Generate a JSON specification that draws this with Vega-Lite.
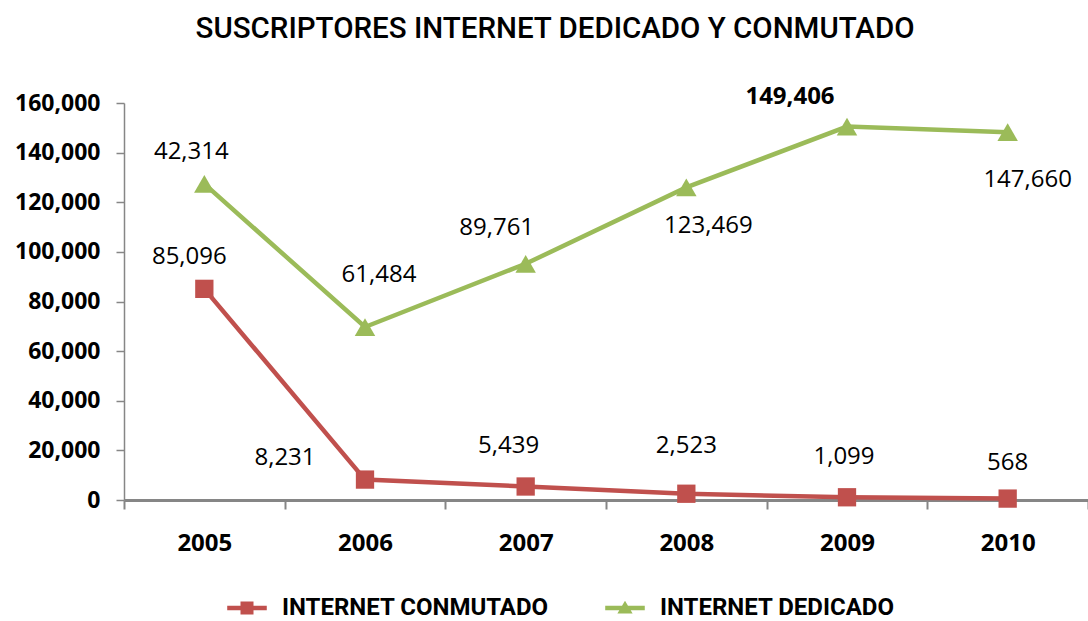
{
  "$schema": "https://vega.github.io/schema/vega-lite/v6.json",
  "width": 964,
  "height": 397,
  "autosize": {"type": "none"},
  "padding": {"left": 124, "top": 103, "right": 0, "bottom": 121},
  "background": "white",
  "title": {"text": "SUSCRIPTORES INTERNET DEDICADO Y CONMUTADO", "font": "Roboto", "fontSize": 29.5, "fontWeight": 500, "color": "#000000", "anchor": "middle", "dx": -51, "offset": 40},
  "config": {"view": {"stroke": null}, "font": "Open Sans"},
  "data": {"values": [
    {"year": "2005", "series": "INTERNET CONMUTADO", "value": 85096},
    {"year": "2006", "series": "INTERNET CONMUTADO", "value": 8231},
    {"year": "2007", "series": "INTERNET CONMUTADO", "value": 5439},
    {"year": "2008", "series": "INTERNET CONMUTADO", "value": 2523},
    {"year": "2009", "series": "INTERNET CONMUTADO", "value": 1099},
    {"year": "2010", "series": "INTERNET CONMUTADO", "value": 568},
    {"year": "2005", "series": "INTERNET DEDICADO", "value": 42314},
    {"year": "2006", "series": "INTERNET DEDICADO", "value": 61484},
    {"year": "2007", "series": "INTERNET DEDICADO", "value": 89761},
    {"year": "2008", "series": "INTERNET DEDICADO", "value": 123469},
    {"year": "2009", "series": "INTERNET DEDICADO", "value": 149406},
    {"year": "2010", "series": "INTERNET DEDICADO", "value": 147660}
  ]},
  "transform": [
    {"stack": "value", "groupby": ["year"], "sort": [{"field": "series", "order": "ascending"}], "as": ["v0", "v1"]}
  ],
  "encoding": {
    "x": {"field": "year", "type": "ordinal", "scale": {"type": "band", "paddingInner": 0, "paddingOuter": 0},
      "axis": {"title": null, "labelAngle": 0, "labelFont": "Open Sans", "labelFontSize": 24, "labelFontWeight": "bold", "labelColor": "#000000", "labelPadding": 22, "tickBand": "extent", "tickSize": 9, "tickWidth": 2, "tickColor": "#868686", "domainColor": "#868686", "domainWidth": 3, "grid": false}},
    "y": {"field": "v1", "type": "quantitative", "scale": {"domain": [0, 160000], "nice": false},
      "axis": {"title": null, "values": [0, 20000, 40000, 60000, 80000, 100000, 120000, 140000, 160000], "format": ",d", "labelFont": "Open Sans", "labelFontSize": 23, "labelFontWeight": "bold", "labelColor": "#000000", "labelPadding": 16, "tickSize": 8, "tickWidth": 1.5, "tickColor": "#868686", "domainColor": "#868686", "domainWidth": 1.5, "grid": false}}
  },
  "layer": [
    {"mark": {"type": "line", "strokeWidth": 4.5},
      "encoding": {
        "color": {"field": "series", "type": "nominal", "scale": {"domain": ["INTERNET CONMUTADO", "INTERNET DEDICADO"], "range": ["#C0504D", "#9BBB59"]},
          "legend": {"orient": "none", "legendX": 111, "legendY": 493, "direction": "horizontal", "title": null, "labelFont": "Roboto", "labelFontSize": 24, "labelFontWeight": "bold", "labelColor": "#000000", "labelLimit": 500, "symbolSize": 345, "labelOffset": 23, "columnPadding": 56,
            "encode": {"symbols": {"update": {
              "shape": {"signal": "datum.value == 'INTERNET CONMUTADO' ? 'M-2.13,-0.24L2.13,-0.24L2.13,0.24L-2.13,0.24Z M-0.7,-0.7L0.7,-0.7L0.7,0.7L-0.7,0.7Z' : 'M-2.13,-0.24L2.13,-0.24L2.13,0.24L-2.13,0.24Z M-0.82,0.6L0,-0.78L0.82,0.6Z'"},
              "fill": {"signal": "scale('color', datum.value)"},
              "stroke": {"value": "transparent"},
              "strokeWidth": {"value": 0},
              "opacity": {"value": 1},
              "fillOpacity": {"value": 1}}}}}}
      }},
    {"transform": [{"filter": "datum.series == 'INTERNET CONMUTADO'"}],
      "mark": {"type": "point", "filled": true, "opacity": 1, "strokeWidth": 0, "shape": "square", "size": 335, "color": "#C0504D"}},
    {"transform": [{"filter": "datum.series == 'INTERNET DEDICADO'"}],
      "mark": {"type": "point", "filled": true, "opacity": 1, "strokeWidth": 0, "shape": "triangle-up", "size": 420, "color": "#9BBB59"}},
    {"transform": [{"filter": "datum.year == '2005' && datum.series == 'INTERNET CONMUTADO'"}],
      "mark": {"type": "text", "font": "Open Sans", "fontSize": 24, "color": "#000000", "dx": -15, "dy": -32}, "encoding": {"text": {"field": "value", "format": ",d"}}},
    {"transform": [{"filter": "datum.year == '2005' && datum.series == 'INTERNET DEDICADO'"}],
      "mark": {"type": "text", "font": "Open Sans", "fontSize": 24, "color": "#000000", "dx": -13, "dy": -32}, "encoding": {"text": {"field": "value", "format": ",d"}}},
    {"transform": [{"filter": "datum.year == '2006' && datum.series == 'INTERNET DEDICADO'"}],
      "mark": {"type": "text", "font": "Open Sans", "fontSize": 24, "color": "#000000", "dx": 14, "dy": -52}, "encoding": {"text": {"field": "value", "format": ",d"}}},
    {"transform": [{"filter": "datum.year == '2007' && datum.series == 'INTERNET DEDICADO'"}],
      "mark": {"type": "text", "font": "Open Sans", "fontSize": 24, "color": "#000000", "dx": -29, "dy": -36}, "encoding": {"text": {"field": "value", "format": ",d"}}},
    {"transform": [{"filter": "datum.year == '2008' && datum.series == 'INTERNET DEDICADO'"}],
      "mark": {"type": "text", "font": "Open Sans", "fontSize": 24, "color": "#000000", "dx": 22, "dy": 39}, "encoding": {"text": {"field": "value", "format": ",d"}}},
    {"transform": [{"filter": "datum.year == '2009' && datum.series == 'INTERNET DEDICADO'"}],
      "mark": {"type": "text", "font": "Open Sans", "fontSize": 24, "fontWeight": "bold", "color": "#000000", "dx": -57, "dy": -30}, "encoding": {"text": {"field": "value", "format": ",d"}}},
    {"transform": [{"filter": "datum.year == '2010' && datum.series == 'INTERNET DEDICADO'"}],
      "mark": {"type": "text", "font": "Open Sans", "fontSize": 24, "color": "#000000", "dx": 20, "dy": 48}, "encoding": {"text": {"field": "value", "format": ",d"}}},
    {"transform": [{"filter": "datum.year == '2006' && datum.series == 'INTERNET CONMUTADO'"}],
      "mark": {"type": "text", "font": "Open Sans", "fontSize": 24, "color": "#000000", "dx": -80, "dy": -22}, "encoding": {"text": {"field": "value", "format": ",d"}}},
    {"transform": [{"filter": "datum.year == '2007' && datum.series == 'INTERNET CONMUTADO'"}],
      "mark": {"type": "text", "font": "Open Sans", "fontSize": 24, "color": "#000000", "dx": -17, "dy": -41}, "encoding": {"text": {"field": "value", "format": ",d"}}},
    {"transform": [{"filter": "datum.year == '2008' && datum.series == 'INTERNET CONMUTADO'"}],
      "mark": {"type": "text", "font": "Open Sans", "fontSize": 24, "color": "#000000", "dy": -48}, "encoding": {"text": {"field": "value", "format": ",d"}}},
    {"transform": [{"filter": "datum.year == '2009' && datum.series == 'INTERNET CONMUTADO'"}],
      "mark": {"type": "text", "font": "Open Sans", "fontSize": 24, "color": "#000000", "dx": -3, "dy": -40}, "encoding": {"text": {"field": "value", "format": ",d"}}},
    {"transform": [{"filter": "datum.year == '2010' && datum.series == 'INTERNET CONMUTADO'"}],
      "mark": {"type": "text", "font": "Open Sans", "fontSize": 24, "color": "#000000", "dy": -36}, "encoding": {"text": {"field": "value", "format": ",d"}}}
  ]
}
